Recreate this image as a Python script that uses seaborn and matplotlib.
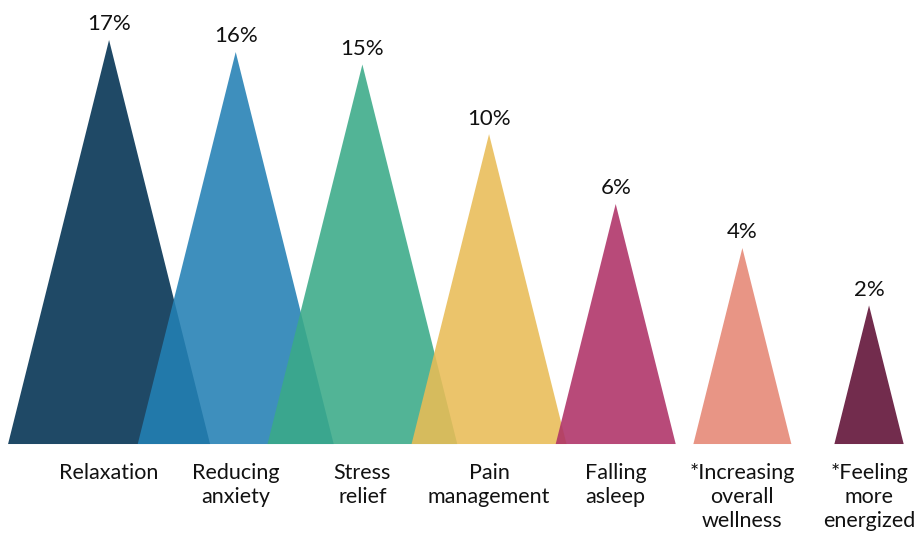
import numpy as np
import matplotlib
matplotlib.use("Agg")
import matplotlib.pyplot as plt
import seaborn as sns

# Reasons given for use, share of respondents (%)
categories = ["Relaxation", "Reducing\nanxiety", "Stress\nrelief", "Pain\nmanagement",
              "Falling\nasleep", "*Increasing\noverall\nwellness", "*Feeling\nmore\nenergized"]
values = [17, 16, 15, 10, 6, 4, 2]
value_labels = ["17%", "16%", "15%", "10%", "6%", "4%", "2%"]
colors = ["#003051", "#2380B4", "#3AAA88", "#E9BC56", "#AE3166", "#E58774", "#5F0E34"]

sns.set_theme(style="white")
plt.rcParams["font.family"] = ["Lato", "DejaVu Sans"]

fig = plt.figure(figsize=(9.14, 5.38), dpi=100)
ax = fig.add_axes([0, 0, 1, 1])

# Triangle area is proportional to the value: height and width both scale with sqrt(value)
half_width_per_unit = 0.1934
for i, (v, c, lab, cat) in enumerate(zip(values, colors, value_labels, categories)):
    h = np.sqrt(v)
    hw = half_width_per_unit * h
    ax.fill([i - hw, i, i + hw], [0, h, 0], color=c, alpha=0.88, lw=0)
    ax.annotate(lab, (i, h), xytext=(0, 4), textcoords="offset points",
                ha="center", va="bottom", fontsize=16, color="#111111")
    ax.annotate(cat, (i, 0), xytext=(0, -14), textcoords="offset points",
                ha="center", va="top", fontsize=15.5, color="#111111", linespacing=1.22)

ax.set_xlim(-0.861, 6.355)
ax.set_ylim(-0.959, 4.531)
ax.axis("off")

fig.savefig("out.png", dpi=100, facecolor="white")
